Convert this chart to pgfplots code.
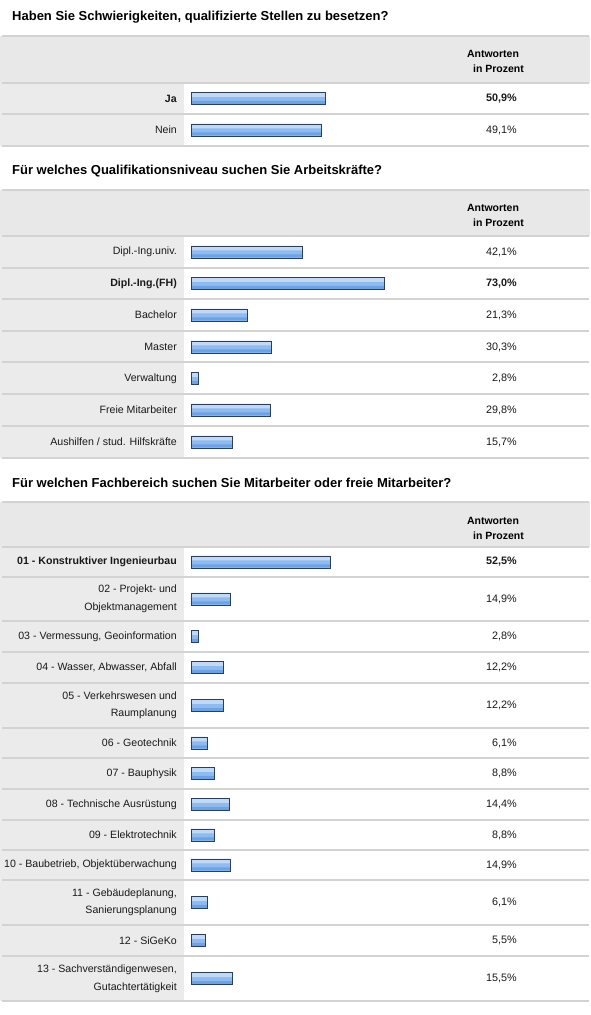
\documentclass[border=0pt]{standalone}
\usepackage{pgfplots}
\pgfplotsset{compat=1.18}
\usepackage{pgfplotstable}
\usepackage{fontspec}
\setmainfont{Liberation Sans}

\definecolor{hdr}{HTML}{E8E8E8}
\definecolor{lab}{HTML}{EBEBEB}
\definecolor{sep}{HTML}{D3D3D3}
\definecolor{bord}{HTML}{2B3E5C}
\definecolor{btop}{HTML}{BFDAF8}
\definecolor{bmid}{HTML}{8EBCF1}
\definecolor{bbot}{HTML}{6FA2E4}

% panel 1
\pgfplotstableread{
y     v     p
98.5  50.9  {\textbf{50,9\%}}
130   49.1  {49,1\%}
}\tA
% panel 2
\pgfplotstableread{
y     v     p
252   42.1  {42,1\%}
283.5 73.0  {\textbf{73,0\%}}
315   21.3  {21,3\%}
347   30.3  {30,3\%}
378.5 2.8   {2,8\%}
410   29.8  {29,8\%}
442   15.7  {15,7\%}
}\tB
% panel 3
\pgfplotstableread{
y      v     p
562    52.5  {\textbf{52,5\%}}
599    14.9  {14,9\%}
636.5  2.8   {2,8\%}
667.5  12.2  {12,2\%}
705.5  12.2  {12,2\%}
743    6.1   {6,1\%}
773.5  8.8   {8,8\%}
804.5  14.4  {14,4\%}
835    8.8   {8,8\%}
865    14.9  {14,9\%}
902.5  6.1   {6,1\%}
940.5  5.5   {5,5\%}
978.75 15.5  {15,5\%}
}\tC

\begin{document}
\begin{tikzpicture}
\begin{axis}[
  set layers,
  width=590pt, height=1015pt, scale only axis,
  xmin=-72.0755, xmax=150.566, ymin=0, ymax=1015, y dir=reverse,
  axis line style={draw=none}, tick style={draw=none}, major tick length=0pt,
  xtick=\empty,
  ytick={98.5,130,252,283.5,315,347,378.5,410,442,562,599,636.5,667.5,705.5,743,773.5,804.5,835,865,902.5,940.5,978.75},
  yticklabels={\textbf{Ja},Nein,
    Dipl.-Ing.univ.,\textbf{Dipl.-Ing.(FH)},Bachelor,Master,Verwaltung,Freie Mitarbeiter,Aushilfen / stud. Hilfskräfte,
    \textbf{01 - Konstruktiver Ingenieurbau},
    {02 - Projekt- und\\Objektmanagement},
    {03 - Vermessung, Geoinformation},
    {04 - Wasser, Abwasser, Abfall},
    {05 - Verkehrswesen und\\Raumplanung},
    06 - Geotechnik,
    07 - Bauphysik,
    08 - Technische Ausrüstung,
    09 - Elektrotechnik,
    {10 - Baubetrieb, Objektüberwachung},
    {11 - Gebäudeplanung,\\Sanierungsplanung},
    12 - SiGeKo,
    {13 - Sachverständigenwesen,\\Gutachtertätigkeit}},
  yticklabel style={anchor=east, inner sep=0pt, xshift=177pt, align=right,
    font=\fontsize{10.6}{17.5}\selectfont, text=black!90},
  clip=false,
]
\begin{pgfonlayer}{axis background}
  \fill[white] (axis cs:-72.0755,0) rectangle (axis cs:150.566,1015);
  % header rows
  \fill[hdr] (axis cs:-72.0755,36) rectangle (axis cs:150.566,83);
  \fill[hdr] (axis cs:-72.0755,190) rectangle (axis cs:150.566,236);
  \fill[hdr] (axis cs:-72.0755,502.3) rectangle (axis cs:150.566,547);
  % label columns
  \fill[lab] (axis cs:-72.0755,83) rectangle (axis cs:-2.6415,145.7);
  \fill[lab] (axis cs:-72.0755,236) rectangle (axis cs:-2.6415,458);
  \fill[lab] (axis cs:-72.0755,547) rectangle (axis cs:-2.6415,1001.5);
  % separators
  \pgfplotsinvokeforeach{36,83,114.3,145.7,190,236,268,299.5,331,362.5,394.3,426,458,502.3,547,577,621,652,683,728,758.3,789,820,850,880,925,956,1001.5}
    {\draw[sep, line width=2pt] (axis cs:-71.3,#1) -- (axis cs:150.2,#1);}
\end{pgfonlayer}

% titles
\node[anchor=base west, inner sep=0pt, font=\fontsize{13}{15}\selectfont\bfseries] at (axis cs:-67.5472,21)
  {Haben Sie Schwierigkeiten, qualifizierte Stellen zu besetzen?};
\node[anchor=base west, inner sep=0pt, font=\fontsize{13}{15}\selectfont\bfseries] at (axis cs:-67.5472,175)
  {Für welches Qualifikationsniveau suchen Sie Arbeitskräfte?};
\node[anchor=base west, inner sep=0pt, font=\fontsize{13}{15}\selectfont\bfseries] at (axis cs:-67.5472,488)
  {Für welchen Fachbereich suchen Sie Mitarbeiter oder freie Mitarbeiter?};
% header texts
\pgfplotsinvokeforeach{36,190,502.3}{
  \node[anchor=base, inner sep=0pt, font=\fontsize{10.5}{12}\selectfont\bfseries] at (axis cs:113.962,#1+22) {Antworten};
  \node[anchor=base, inner sep=0pt, font=\fontsize{10.5}{12}\selectfont\bfseries] at (axis cs:116.038,#1+37) {in Prozent};
}

\pgfplotsset{
  barbase/.style={xbar, bar width=12pt, draw=none, fill=bmid},
  bartop/.style={xbar, bar width=4pt, bar shift=3.5pt, draw=none, fill=btop},
  barbot/.style={xbar, bar width=3pt, bar shift=-4pt, draw=none, fill=bbot},
  barline/.style={xbar, bar width=12pt, draw=bord, line width=0.9pt, fill=none},
  pctsty/.style={draw=none, mark=none, nodes near coords, point meta=explicit symbolic,
    every node near coord/.append style={anchor=east, inner sep=0pt,
      font=\fontsize{10.8}{13}\selectfont, text=black!90}},
}
\addplot[barbase] table[x=v, y=y] {\tA};
\addplot[bartop] table[x=v, y=y] {\tA};
\addplot[barbot] table[x=v, y=y] {\tA};
\addplot[barline] table[x=v, y=y] {\tA};
\addplot[barbase] table[x=v, y=y] {\tB};
\addplot[bartop] table[x=v, y=y] {\tB};
\addplot[barbot] table[x=v, y=y] {\tB};
\addplot[barline] table[x=v, y=y] {\tB};
\addplot[barbase] table[x=v, y=y] {\tC};
\addplot[bartop] table[x=v, y=y] {\tC};
\addplot[barbot] table[x=v, y=y] {\tC};
\addplot[barline] table[x=v, y=y] {\tC};
\addplot[pctsty] table[x expr=123.019, y=y, meta=p] {\tA};
\addplot[pctsty] table[x expr=123.019, y=y, meta=p] {\tB};
\addplot[pctsty] table[x expr=123.019, y=y, meta=p] {\tC};
\end{axis}
\end{tikzpicture}
\end{document}
